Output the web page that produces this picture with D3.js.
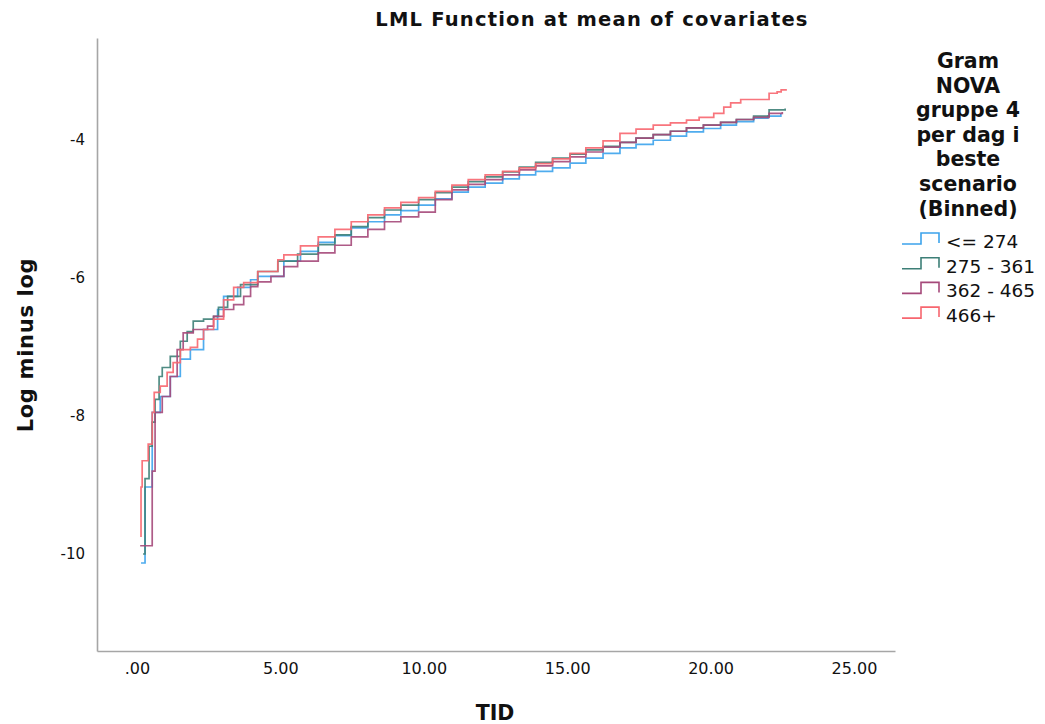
<!DOCTYPE html>
<html>
<head>
<meta charset="utf-8">
<script src="https://cdn.jsdelivr.net/npm/d3@7"></script>
<style>
  body { margin: 0; background: #fff; }
  text { font-family: "DejaVu Sans", sans-serif; fill: #111; }
</style>
</head>
<body>
<svg id="chart" width="1045" height="724"></svg>
<script>
// series labels and colours (legend order)
const groups = ["<= 274", "275 - 361", "362 - 465", "466+"];
const colors = ["#3ca3ec", "#3d7f77", "#a5497a", "#f7666f"];

// [TID, log minus log] step points
const lowBin = [
  [0.14,-10.13],[0.28,-9.03],[0.53,-7.95],[0.81,-7.72],[1.16,-7.43],[1.51,-7.18],[1.86,-7.04],
  [2.32,-6.75],[2.81,-6.46],[3.02,-6.27],[3.51,-6.14],[3.96,-6.03],[4.21,-5.98],[5.12,-5.76],
  [5.7,-5.62],[6.32,-5.49],[6.9,-5.39],[7.47,-5.28],[8.05,-5.19],[8.63,-5.09],[9.2,-5.03],
  [9.82,-4.95],[10.4,-4.86],[10.98,-4.76],[11.55,-4.69],[12.14,-4.63],[12.75,-4.57],[13.33,-4.51],
  [13.9,-4.46],[14.49,-4.41],[15.1,-4.34],[15.65,-4.27],[16.25,-4.2],[16.84,-4.12],[17.4,-4.07],
  [18.0,-4.01],[18.6,-3.95],[19.16,-3.89],[19.75,-3.84],[20.35,-3.79],[20.9,-3.74],[21.5,-3.69],
  [22.0,-3.66],[22.45,-3.62]
];
const midLowBin = [
  [0.21,-10.0],[0.28,-8.91],[0.42,-8.44],[0.53,-8.09],[0.63,-7.76],[0.77,-7.43],[0.88,-7.3],
  [1.16,-7.14],[1.51,-6.92],[1.75,-6.78],[1.96,-6.63],[2.32,-6.6],[2.67,-6.56],[2.84,-6.43],
  [3.16,-6.27],[3.61,-6.1],[4.21,-5.91],[4.91,-5.76],[5.6,-5.66],[6.32,-5.52],[6.9,-5.38],
  [7.47,-5.26],[8.05,-5.13],[8.63,-5.02],[9.2,-4.95],[9.82,-4.87],[10.4,-4.77],[10.98,-4.69],
  [11.55,-4.61],[12.14,-4.54],[12.75,-4.47],[13.33,-4.4],[13.9,-4.33],[14.49,-4.27],[15.1,-4.21],
  [15.65,-4.15],[16.25,-4.1],[16.84,-4.04],[17.4,-3.98],[18.0,-3.93],[18.6,-3.88],[19.16,-3.83],
  [19.75,-3.79],[20.35,-3.75],[20.9,-3.71],[21.5,-3.66],[22.04,-3.57],[22.6,-3.55]
];
const midHighBin = [
  [0.11,-9.88],[0.53,-8.8],[0.63,-7.95],[0.88,-7.72],[1.16,-7.43],[1.4,-7.04],[1.61,-6.8],
  [1.96,-6.75],[2.46,-6.7],[2.67,-6.56],[3.02,-6.46],[3.37,-6.39],[3.72,-6.27],[3.96,-6.13],
  [4.21,-6.06],[4.67,-5.98],[5.12,-5.84],[5.6,-5.76],[6.32,-5.64],[6.9,-5.53],[7.47,-5.41],
  [8.05,-5.3],[8.63,-5.19],[9.2,-5.12],[9.82,-5.05],[10.4,-4.87],[10.98,-4.73],[11.55,-4.65],
  [12.14,-4.58],[12.75,-4.51],[13.33,-4.44],[13.9,-4.38],[14.49,-4.32],[15.1,-4.25],[15.65,-4.18],
  [16.25,-4.11],[16.84,-4.04],[17.4,-3.98],[18.0,-3.93],[18.6,-3.88],[19.16,-3.83],[19.75,-3.79],
  [20.35,-3.75],[20.9,-3.71],[21.5,-3.68],[22.04,-3.62],[22.5,-3.6]
];
const highBin = [
  [0.11,-9.74],[0.14,-9.03],[0.18,-8.65],[0.39,-8.41],[0.53,-7.95],[0.6,-7.66],[0.81,-7.57],
  [1.05,-7.37],[1.26,-7.23],[1.51,-7.04],[1.86,-7.01],[2.11,-6.89],[2.32,-6.75],[2.67,-6.6],
  [3.02,-6.32],[3.37,-6.14],[3.72,-6.07],[4.21,-5.91],[4.91,-5.74],[5.12,-5.67],[5.7,-5.54],
  [6.32,-5.41],[6.9,-5.3],[7.47,-5.19],[8.05,-5.09],[8.63,-4.99],[9.2,-4.91],[9.82,-4.84],
  [10.4,-4.75],[10.98,-4.66],[11.55,-4.58],[12.14,-4.51],[12.75,-4.46],[13.33,-4.41],[13.9,-4.35],
  [14.49,-4.28],[15.1,-4.2],[15.65,-4.12],[16.25,-4.02],[16.84,-3.91],[17.4,-3.85],[18.0,-3.79],
  [18.6,-3.76],[19.16,-3.72],[19.6,-3.68],[20.11,-3.62],[20.46,-3.53],[20.7,-3.47],[21.05,-3.42],
  [22.04,-3.33],[22.32,-3.31],[22.46,-3.28],[22.63,-3.27]
];
const seriesValues = [lowBin, midLowBin, midHighBin, highBin];

const xTicks = [0, 5, 10, 15, 20, 25];
const yTicks = [-10, -8, -6, -4];
const legendTitle = ["Gram", "NOVA", "gruppe 4", "per dag i", "beste", "scenario", "(Binned)"];

const svg = d3.select("#chart");
const plotLeft = 97, plotRight = 895, plotTop = 38, plotBottom = 651;

const x = d3.scaleLinear().domain([-1.395, 26.43]).range([plotLeft, plotRight]);
const y = d3.scaleLinear().domain([-11.404, -2.53]).range([plotBottom, plotTop]);

// axes, no tick marks
const xAxis = svg.append("g")
  .attr("transform", `translate(0,${plotBottom})`)
  .call(d3.axisBottom(x).tickValues(xTicks).tickSize(0).tickPadding(12)
    .tickFormat(d => d3.format(".2f")(d).replace(/^0\./, ".")));
const yAxis = svg.append("g")
  .attr("transform", `translate(${plotLeft},0)`)
  .call(d3.axisLeft(y).tickValues(yTicks).tickSize(0).tickPadding(12)
    .tickFormat(d => String(d)));

[xAxis, yAxis].forEach(a => {
  a.select(".domain").attr("stroke", "#a6a6a6").attr("stroke-width", 1.6);
  a.selectAll("text").attr("fill", "#222").attr("font-family", "DejaVu Sans, sans-serif");
});
xAxis.selectAll("text").attr("font-size", 16);
yAxis.selectAll("text").attr("font-size", 15);

const line = d3.line()
  .x(d => x(d[0]))
  .y(d => y(d[1]))
  .curve(d3.curveStepAfter);

svg.append("g")
  .selectAll("path")
  .data(seriesValues)
  .join("path")
  .attr("fill", "none")
  .attr("stroke", (d, i) => colors[i])
  .attr("stroke-width", 1.7)
  .attr("stroke-opacity", 0.9)
  .attr("d", line);

// titles
svg.append("text")
  .attr("x", 592).attr("y", 26)
  .attr("text-anchor", "middle")
  .attr("font-size", 19.5).attr("font-weight", "bold")
  .attr("letter-spacing", 1.2)
  .text("LML Function at mean of covariates");

svg.append("text")
  .attr("transform", "translate(33,345) rotate(-90)")
  .attr("text-anchor", "middle")
  .attr("font-size", 21).attr("font-weight", "bold")
  .attr("letter-spacing", 0.7)
  .text("Log minus log");

svg.append("text")
  .attr("x", 495).attr("y", 720)
  .attr("text-anchor", "middle")
  .attr("font-size", 20.5).attr("font-weight", "bold")
  .text("TID");

// legend
const legend = svg.append("g");
legend.selectAll("text.lt")
  .data(legendTitle)
  .join("text")
  .attr("class", "lt")
  .attr("x", 968)
  .attr("y", (d, i) => 68 + i * 24.6)
  .attr("text-anchor", "middle")
  .attr("font-size", 20.5).attr("font-weight", "bold")
  .text(d => d);

const item = legend.selectAll("g.item")
  .data(groups)
  .join("g")
  .attr("class", "item")
  .attr("transform", (d, i) => `translate(0,${233 + i * 24.7})`);

item.append("path")
  .attr("fill", "none")
  .attr("stroke", (d, i) => colors[i])
  .attr("stroke-width", 1.6)
  .attr("d", "M902,11H921V0H939V10");

item.append("text")
  .attr("x", 946)
  .attr("y", 15)
  .attr("font-size", 18.5)
  .text(d => d);
</script>
</body>
</html>
